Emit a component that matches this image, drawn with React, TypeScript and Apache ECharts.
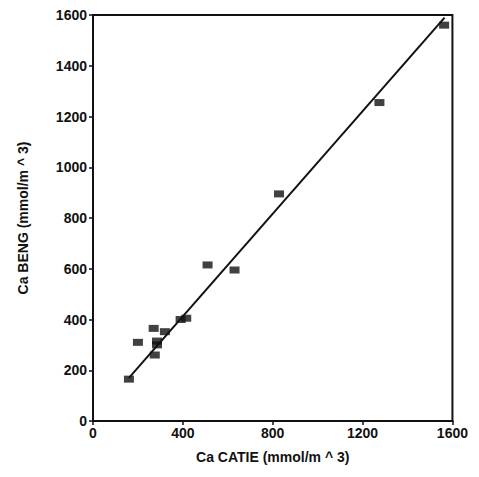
import React, { useEffect, useRef } from "react";
import * as echarts from "echarts";

const caCatie = [160, 200, 270, 285, 285, 275, 320, 390, 415, 510, 630, 828, 1275, 1563];
const caBeng = [165, 310, 365, 315, 300, 260, 352, 400, 405, 615, 595, 895, 1255, 1560];
const fitX = [160, 1565];
const fitY = [170, 1590];
const xTicks = [0, 400, 800, 1200, 1600];
const yTicks = [0, 200, 400, 600, 800, 1000, 1200, 1400, 1600];

export default function App() {
  const ref = useRef<HTMLDivElement>(null);
  useEffect(() => {
    if (!ref.current) return;
    const chart = echarts.init(ref.current, null, { renderer: "svg" });
    const font = "'Liberation Sans', Arial, sans-serif";
    chart.setOption({
      animation: false,
      backgroundColor: "#ffffff",
      grid: {
        left: 80,
        right: 16,
        top: 6,
        bottom: 45,
        containLabel: false,
        show: true,
        borderColor: "#111",
        borderWidth: 2,
        backgroundColor: "transparent",
      },
      xAxis: {
        type: "value",
        min: xTicks[0],
        max: xTicks[xTicks.length - 1],
        interval: 400,
        name: "Ca CATIE (mmol/m ^ 3)",
        nameLocation: "middle",
        nameGap: 29,
        nameTextStyle: { fontFamily: font, fontWeight: "bold", fontSize: 14, color: "#111" },
        axisLine: { show: true, onZero: false, lineStyle: { color: "#111", width: 2 } },
        axisTick: { show: true, inside: false, length: 4, lineStyle: { color: "#111", width: 1.5 } },
        axisLabel: {
          fontFamily: font,
          fontWeight: "bold",
          fontSize: 14,
          color: "#111",
          margin: 5,
          formatter: (v: number) => String(v),
        },
        splitLine: { show: false },
      },
      yAxis: {
        type: "value",
        min: yTicks[0],
        max: yTicks[yTicks.length - 1],
        interval: 200,
        name: "Ca BENG (mmol/m ^ 3)",
        nameLocation: "middle",
        nameGap: 63,
        nameTextStyle: { fontFamily: font, fontWeight: "bold", fontSize: 14, color: "#111" },
        axisLine: { show: true, onZero: false, lineStyle: { color: "#111", width: 2 } },
        axisTick: { show: true, inside: false, length: 4, lineStyle: { color: "#111", width: 1.5 } },
        axisLabel: {
          fontFamily: font,
          fontWeight: "bold",
          fontSize: 14,
          color: "#111",
          margin: 6,
          formatter: (v: number) => String(v),
        },
        splitLine: { show: false },
      },
      series: [
        {
          type: "scatter",
          data: caCatie.map((x, i) => [x, caBeng[i]]),
          symbol: "rect",
          symbolSize: [10, 7],
          itemStyle: { color: "#111" },
        },
        {
          type: "line",
          data: fitX.map((x, i) => [x, fitY[i]]),
          showSymbol: false,
          symbol: "none",
          lineStyle: { color: "#111", width: 2 },
        },
      ],
    });
    return () => chart.dispose();
  }, []);
  return <div ref={ref} style={{ width: 463, height: 461 }} />;
}
